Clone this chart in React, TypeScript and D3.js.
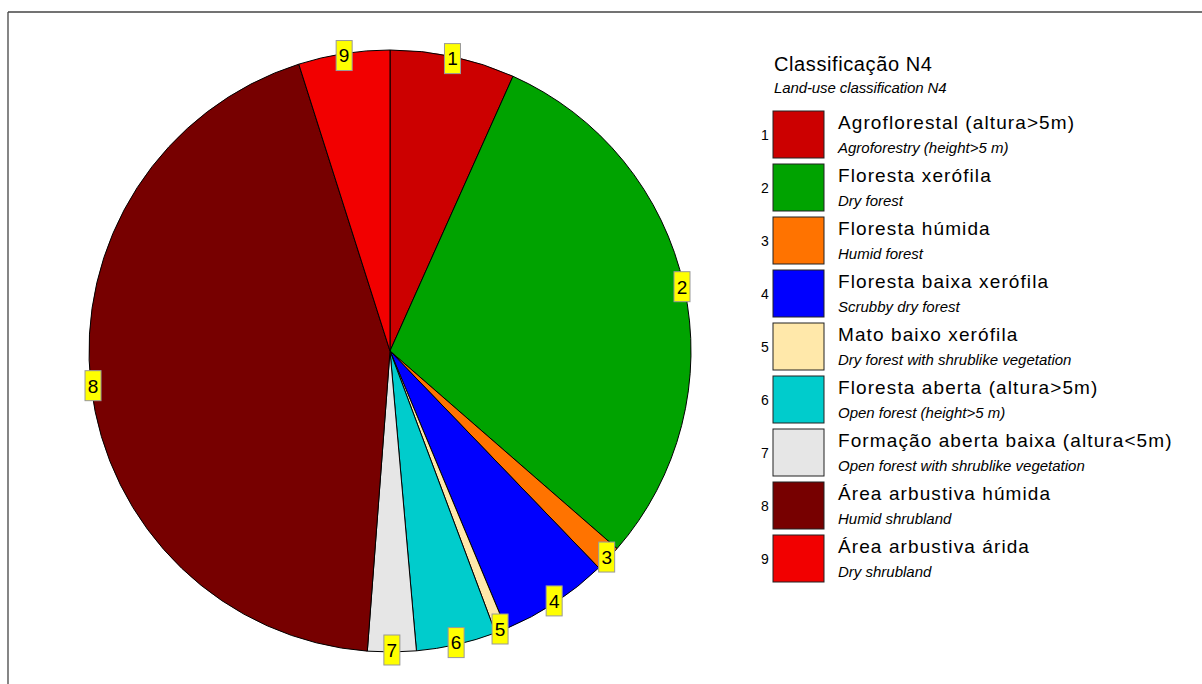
import React from "react";
import * as d3 from "d3";

// class ids, names (pt / en), shares in %
const classIds = ["1", "2", "3", "4", "5", "6", "7", "8", "9"];
const namesPt = [
  "Agroflorestal (altura>5m)",
  "Floresta xerófila",
  "Floresta húmida",
  "Floresta baixa xerófila",
  "Mato baixo xerófila",
  "Floresta aberta (altura>5m)",
  "Formação aberta baixa (altura<5m)",
  "Área arbustiva húmida",
  "Área arbustiva árida",
];
const namesEn = [
  "Agroforestry (height>5 m)",
  "Dry forest",
  "Humid forest",
  "Scrubby dry forest",
  "Dry forest with shrublike vegetation",
  "Open forest (height>5 m)",
  "Open forest with shrublike vegetation",
  "Humid shrubland",
  "Dry shrubland",
];
const shares = [6.7, 29.7, 1.4, 5.9, 0.6, 4.3, 2.6, 43.9, 4.9];
const colors = [
  "#cc0000",
  "#00a300",
  "#ff7300",
  "#0000ff",
  "#ffe8aa",
  "#00cccc",
  "#e6e6e6",
  "#770000",
  "#f20000",
];

const W = 1202;
const H = 684;
const cx = 390;
const cy = 351;
const R = 301;
const FONT = "'Liberation Sans', Arial, sans-serif";

export default function App() {
  const data = classIds.map((id, i) => ({ id, value: shares[i], color: colors[i] }));

  const pie = d3
    .pie<any>()
    .sort(null)
    .value((d) => d.value)
    .startAngle(0)
    .endAngle(2 * Math.PI);
  const arcs = pie(data);

  const arc = d3.arc<any>().innerRadius(0).outerRadius(R);
  const labelArc = d3.arc<any>().innerRadius(R - 2).outerRadius(R - 2);

  // legend layout
  const legX = 773;
  const legTop = 111;
  const legStep = 53;
  const boxW = 51;
  const boxH = 47;

  return (
    <svg
      width={W}
      height={H}
      style={{ position: "absolute", left: 0, top: 0, background: "#fff" }}
      fontFamily={FONT}
    >
      {/* frame (only top and left edges visible) */}
      <line x1={8} y1={12} x2={W} y2={12} stroke="#444" strokeWidth={1.3} />
      <line x1={8} y1={12} x2={8} y2={H} stroke="#444" strokeWidth={1.3} />

      <g transform={`translate(${cx},${cy})`}>
        {arcs.map((a, i) => (
          <path key={i} d={arc(a) as string} fill={a.data.color} stroke="#000" strokeWidth={1} />
        ))}
        {arcs.map((a, i) => {
          const [lx, ly] = labelArc.centroid(a);
          return (
            <g key={"l" + i} transform={`translate(${lx},${ly})`}>
              <rect x={-8} y={-15} width={16} height={30} fill="#ffff00" stroke="#999" strokeWidth={1} />
              <text textAnchor="middle" dy="0.36em" fontSize={19} fill="#000">
                {a.data.id}
              </text>
            </g>
          );
        })}
      </g>

      {/* legend */}
      <text x={774} y={71} fontSize={20} letterSpacing={0.6} fill="#000">
        Classificação N4
      </text>
      <text x={774} y={93} fontSize={15} fontStyle="italic" letterSpacing={-0.1} fill="#000">
        Land-use classification N4
      </text>
      {classIds.map((id, i) => {
        const y = legTop + i * legStep;
        return (
          <g key={"g" + i}>
            <text x={765} y={y + boxH / 2 + 5} fontSize={14} textAnchor="middle" fill="#000">
              {id}
            </text>
            <rect x={legX} y={y} width={boxW} height={boxH} fill={colors[i]} stroke="#222" strokeWidth={1} />
            <text x={838} y={y + 18} fontSize={19} letterSpacing={1.1} fill="#000">
              {namesPt[i]}
            </text>
            <text x={838} y={y + 41.5} fontSize={15} fontStyle="italic" fill="#000">
              {namesEn[i]}
            </text>
          </g>
        );
      })}
    </svg>
  );
}
